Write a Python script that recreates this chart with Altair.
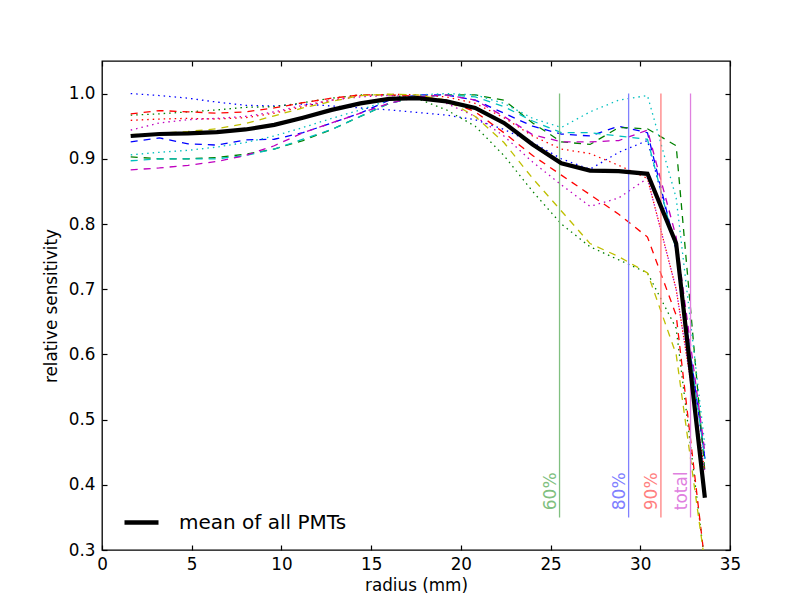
import altair as alt
import pandas as pd

# radial positions (mm)
radius = [1.6, 3.2, 4.8, 6.4, 8.0, 9.6, 11.2, 12.8, 14.4, 16.0, 17.6,
          19.2, 20.8, 22.4, 24.0, 25.6, 27.2, 28.8, 30.4, 32.0, 33.6]

mean_all = [0.935, 0.938, 0.939, 0.941, 0.945, 0.952, 0.963, 0.975, 0.985, 0.992, 0.993,
            0.988, 0.978, 0.955, 0.922, 0.893, 0.882, 0.881, 0.877, 0.770, 0.380]

pmt_b_dotted = [1.000, 0.997, 0.993, 0.987, 0.982, 0.981, 0.984, 0.981, 0.978, 0.975, 0.971,
                0.967, 0.960, 0.945, 0.925, 0.900, 0.884, 0.910, 0.928, 0.760, 0.440]
pmt_b_dashed = [0.926, 0.932, 0.923, 0.921, 0.929, 0.930, 0.940, 0.955, 0.970, 0.990, 0.998,
                0.998, 0.990, 0.970, 0.950, 0.938, 0.935, 0.950, 0.940, 0.760, 0.440]
pmt_g_dotted = [0.967, 0.969, 0.972, 0.975, 0.979, 0.980, 0.986, 0.993, 0.998, 0.998, 0.992,
                0.975, 0.950, 0.905, 0.850, 0.800, 0.765, 0.745, 0.725, 0.640, 0.280]
pmt_g_dashed = [0.903, 0.900, 0.900, 0.902, 0.907, 0.915, 0.928, 0.945, 0.965, 0.985, 0.995,
                0.998, 0.998, 0.990, 0.955, 0.926, 0.922, 0.948, 0.946, 0.920, 0.420]
pmt_r_dotted = [0.959, 0.961, 0.962, 0.961, 0.963, 0.970, 0.980, 0.990, 0.997, 0.999, 0.998,
                0.995, 0.985, 0.963, 0.935, 0.915, 0.908, 0.890, 0.870, 0.700, 0.420]
pmt_r_dashed = [0.969, 0.974, 0.972, 0.970, 0.972, 0.978, 0.986, 0.993, 0.998, 0.998, 0.996,
                0.990, 0.972, 0.940, 0.905, 0.875, 0.845, 0.815, 0.780, 0.660, 0.280]
pmt_c_dotted = [0.906, 0.910, 0.913, 0.918, 0.925, 0.935, 0.948, 0.962, 0.975, 0.990, 0.998,
                1.000, 0.998, 0.985, 0.962, 0.948, 0.972, 0.990, 0.997, 0.840, 0.460]
pmt_c_dashed = [0.897, 0.900, 0.900, 0.900, 0.905, 0.915, 0.930, 0.945, 0.965, 0.985, 0.995,
                0.998, 0.995, 0.980, 0.958, 0.940, 0.940, 0.935, 0.930, 0.760, 0.440]
pmt_m_dotted = [0.944, 0.955, 0.960, 0.962, 0.965, 0.972, 0.982, 0.990, 0.995, 0.997, 0.995,
                0.985, 0.965, 0.935, 0.895, 0.860, 0.827, 0.840, 0.870, 0.700, 0.420]
pmt_m_dashed = [0.883, 0.886, 0.890, 0.896, 0.905, 0.920, 0.940, 0.955, 0.970, 0.985, 0.995,
                0.998, 0.990, 0.965, 0.937, 0.926, 0.926, 0.928, 0.944, 0.780, 0.450]
pmt_y_dashed = [0.937, 0.939, 0.942, 0.946, 0.954, 0.966, 0.978, 0.988, 0.997, 0.999, 0.998,
                0.990, 0.965, 0.925, 0.870, 0.820, 0.770, 0.750, 0.725, 0.600, 0.280]

pmt_series = [
    ("b:", "#0000ff", "dotted", pmt_b_dotted),
    ("b--", "#0000ff", "dashed", pmt_b_dashed),
    ("g:", "#008000", "dotted", pmt_g_dotted),
    ("g--", "#008000", "dashed", pmt_g_dashed),
    ("r:", "#ff0000", "dotted", pmt_r_dotted),
    ("r--", "#ff0000", "dashed", pmt_r_dashed),
    ("c:", "#00bfbf", "dotted", pmt_c_dotted),
    ("c--", "#00bfbf", "dashed", pmt_c_dashed),
    ("m:", "#bf00bf", "dotted", pmt_m_dotted),
    ("m--", "#bf00bf", "dashed", pmt_m_dashed),
    ("y--", "#bfbf00", "dashed", pmt_y_dashed),
]

# containment radii
cut_radius = [25.5, 29.35, 31.15, 32.8]
cut_label = ["60%", "80%", "90%", "total"]
cut_color = ["#80c080", "#8080ff", "#ff8080", "#df80df"]
cut_low = 0.35
cut_high = 1.0
label_pos = 0.361

x_ticks = [0, 5, 10, 15, 20, 25, 30, 35]
y_ticks = [0.3, 0.4, 0.5, 0.6, 0.7, 0.8, 0.9, 1.0]

W, H = 628, 489
FONT = "DejaVu Sans"
AX_FS = 16.8

rows = []
for name, col, style, vals in pmt_series:
    for r, v in zip(radius, vals):
        rows.append({"pmt": name, "color": col, "style": style, "radius": r, "sens": v})
pmt_df = pd.DataFrame(rows)

mean_df = pd.DataFrame({"radius": radius, "sens": mean_all, "label": "mean of all PMTs"})
cut_df = pd.DataFrame({"r": cut_radius, "label": cut_label, "color": cut_color,
                       "lo": cut_low, "hi": cut_high, "ly": label_pos})

xscale = alt.Scale(domain=[0, 35], nice=False, zero=False)
yscale = alt.Scale(domain=[0.3, 1.05], nice=False, zero=False)

main_x_axis = alt.Axis(values=x_ticks, ticks=False, domain=False, grid=False,
                       labelPadding=6, title="radius (mm)", titlePadding=5,
                       labelFontSize=AX_FS, titleFontSize=AX_FS, titleFontWeight="normal",
                       labelFont=FONT, titleFont=FONT, labelColor="black", titleColor="black",
                       orient="bottom", labelFlush=False)
main_y_axis = alt.Axis(values=y_ticks, ticks=False, domain=False, grid=False, format=".1f",
                       labelPadding=7, title="relative sensitivity", titlePadding=8,
                       labelFontSize=AX_FS, titleFontSize=AX_FS, titleFontWeight="normal",
                       labelFont=FONT, titleFont=FONT, labelColor="black", titleColor="black",
                       orient="left", labelFlush=False)


def tick_axis(vals, orient, offset):
    return alt.Axis(values=vals, orient=orient, offset=offset, labels=False, domain=False,
                    grid=False, ticks=True, tickSize=5, tickColor="black", tickWidth=1.2,
                    title=None)


pmt_lines = alt.Chart(pmt_df).mark_line(strokeWidth=1.3, clip=True).encode(
    x=alt.X("radius:Q", scale=xscale, axis=main_x_axis),
    y=alt.Y("sens:Q", scale=yscale, axis=main_y_axis),
    detail="pmt:N",
    color=alt.Color("color:N", scale=None),
    strokeDash=alt.StrokeDash("style:N",
                              scale=alt.Scale(domain=["dashed", "dotted"],
                                              range=[[7, 6], [1.5, 4]]),
                              legend=None),
)

rules = alt.Chart(cut_df).mark_rule(strokeWidth=1.3).encode(
    x=alt.X("r:Q", scale=xscale, axis=tick_axis(x_ticks, "top", -H)),
    y=alt.Y("lo:Q", scale=yscale, axis=tick_axis(y_ticks, "right", -W)),
    y2="hi:Q",
    color=alt.Color("color:N", scale=None),
)

labels = alt.Chart(cut_df).mark_text(angle=270, align="left", baseline="alphabetic",
                                     dy=-4, fontSize=17, font=FONT).encode(
    x=alt.X("r:Q", scale=xscale, axis=None),
    y=alt.Y("ly:Q", scale=yscale, axis=None),
    text="label:N",
    color=alt.Color("color:N", scale=None),
)

mean_line = alt.Chart(mean_df).mark_line(strokeWidth=4.2, clip=True).encode(
    x=alt.X("radius:Q", scale=xscale, axis=tick_axis(x_ticks, "bottom", -H)),
    y=alt.Y("sens:Q", scale=yscale, axis=tick_axis(y_ticks, "left", -W)),
    color=alt.Color("label:N", scale=alt.Scale(domain=["mean of all PMTs"], range=["black"]),
                    legend=alt.Legend(title=None, orient="none", legendX=20, legendY=442,
                                      symbolType="stroke", symbolStrokeWidth=4.5,
                                      symbolSize=1156, labelFontSize=20, labelFont=FONT,
                                      labelColor="black", labelOffset=18, padding=0,
                                      labelLimit=400)),
)

chart = alt.layer(pmt_lines, rules, labels, mean_line).resolve_scale(
    color="independent"
).resolve_axis(
    x="independent", y="independent"
).properties(
    width=W, height=H,
    autosize=alt.AutoSizeParams(type="none"),
    padding={"left": 94, "top": 53, "right": 70, "bottom": 48},
    background="white",
).configure_view(
    stroke="black", strokeWidth=1.3
)

chart.save("out.html", embed_options={"renderer": "svg", "actions": False})
